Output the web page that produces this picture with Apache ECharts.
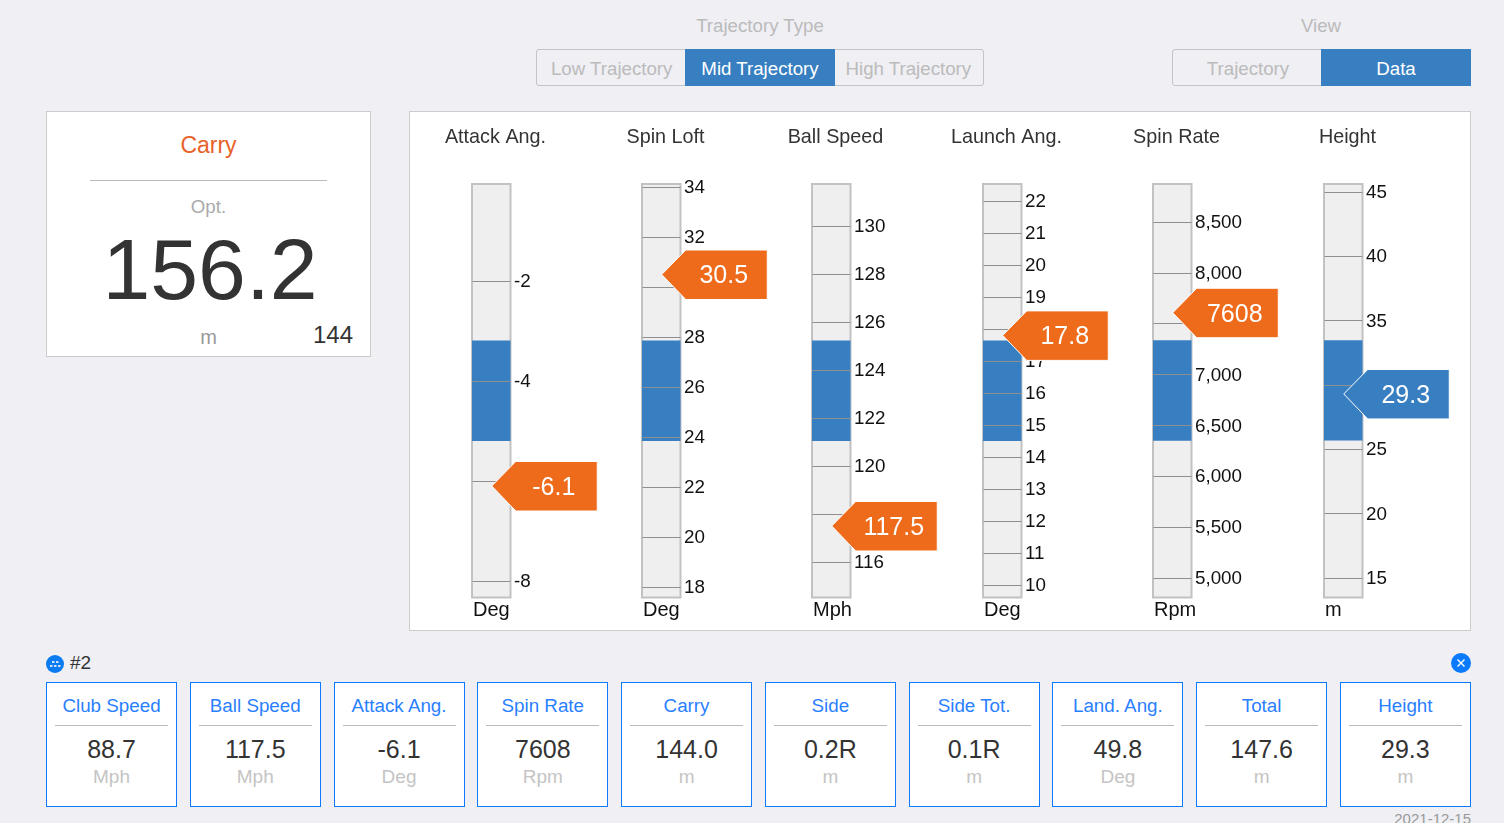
<!DOCTYPE html>
<html>
<head>
<meta charset="utf-8">
<script src="https://cdn.jsdelivr.net/npm/echarts@6/dist/echarts.min.js"></script>
<style>
  html, body { margin: 0; padding: 0; }
  body { width: 1504px; height: 823px; overflow: hidden; position: relative; background: #efeff4; font-family: "Liberation Sans", Arial, sans-serif; color: #333; }
  .abs { position: absolute; }
  .cap { color: #bbb; font-size: 18.7px; text-align: center; top: 15px; line-height: 22px; }
  .seg { top: 49px; height: 35px; border: 1px solid #c4c4c8; border-radius: 3px; display: flex; }
  .seg div { flex: 1; text-align: center; line-height: 37px; font-size: 18.7px; color: #bbb; }
  .seg div.on { background: #377fc1; color: #fff; margin: -1px -1px; line-height: 39px; position: relative; }
  #viewSeg div.on { margin-left: -2px; }
  #carry { left: 46px; top: 111px; width: 323px; height: 244px; background: #fff; border: 1px solid #ccc; }
  #carry .t { position: absolute; left: 0; right: 0; text-align: center; }
  #panel { left: 409px; top: 111px; width: 1060px; height: 518px; background: #fff; border: 1px solid #ccc; }
  #chart { width: 1060px; height: 518px; }
  #cards { left: 46px; top: 682px; width: 1425px; display: flex; justify-content: space-between; }
  .card { box-sizing: border-box; width: 131px; height: 125px; background: #fff; border: 1px solid #0a7bff; text-align: center; }
  .card .name { color: #2a7fff; font-size: 18.8px; line-height: 22px; margin: 12px 8px 0; padding-bottom: 8px; border-bottom: 1px solid #bbb; }
  .card .val { font-size: 25px; line-height: 30px; margin-top: 8px; }
  .card .unit { color: #c4c4c4; font-size: 19px; line-height: 22px; margin-top: 2px; }
</style>
</head>
<body>
<div class="abs cap" style="left:536px;width:448px">Trajectory Type</div>
<div class="abs seg" id="typeSeg" style="left:536px;width:446px"></div>
<div class="abs cap" style="left:1172px;width:298px">View</div>
<div class="abs seg" id="viewSeg" style="left:1172px;width:297px"></div>

<div class="abs" id="carry">
  <div class="t" style="top:19px;font-size:23px;line-height:28px;color:#e8622a">Carry</div>
  <div class="abs" style="left:43px;width:237px;top:68px;height:1px;background:#bbb"></div>
  <div class="t" style="top:84px;font-size:18.7px;line-height:22px;color:#aaa">Opt.</div>
  <div class="t" style="top:106.5px;left:3px;font-size:86px;line-height:100px">156.2</div>
  <div class="t" style="top:213px;font-size:20px;line-height:24px;color:#999">m</div>
  <div class="abs" style="right:17px;top:209px;font-size:24px;line-height:28px">144</div>
</div>

<div class="abs" id="panel"><div id="chart"></div></div>

<svg class="abs" style="left:46px;top:655px" width="18" height="18" viewBox="0 0 18 18">
  <circle cx="9" cy="9" r="9" fill="#0a7bf0"/>
  <g fill="#cfe2fb"><rect x="6" y="6" width="2.5" height="2"/><rect x="10" y="6" width="2.5" height="2"/><rect x="4" y="10" width="2.5" height="2"/><rect x="8" y="10" width="2.5" height="2"/><rect x="12" y="10" width="2.5" height="2"/></g>
</svg>
<div class="abs" style="left:70px;top:652px;font-size:19px;line-height:22px">#2</div>
<svg class="abs" style="left:1451px;top:653px" width="20" height="20" viewBox="0 0 20 20">
  <circle cx="10" cy="10" r="10" fill="#0a7bff"/>
  <path d="M6.5 6.5L13.5 13.5M13.5 6.5L6.5 13.5" stroke="#fff" stroke-width="1.4"/>
</svg>
<div class="abs" id="cards"></div>
<div class="abs" style="right:33px;top:810px;font-size:15px;line-height:18px;color:#999">2021-12-15</div>

<script>
// trajectory selector
var typeOptions = ["Low Trajectory", "Mid Trajectory", "High Trajectory"];
var viewOptions = ["Trajectory", "Data"];

// gauges
var gaugeNames = ["Attack Ang.", "Spin Loft", "Ball Speed", "Launch Ang.", "Spin Rate", "Height"];
var gaugeUnits = ["Deg", "Deg", "Mph", "Deg", "Rpm", "m"];
var gaugeValues = [-6.1, 30.5, 117.5, 17.8, 7608, 29.3];
var gaugeMax = [-0.06, 34.12, 131.75, 22.53, 8874, 45.62];
var gaugeMin = [-8.33, 17.58, 114.52, 9.61, 4808, 13.48];
var bandHigh = [-3.19, 27.86, 125.23, 17.64, 7338, 33.48];
var bandLow = [-5.2, 23.84, 121.04, 14.5, 6350, 25.68];
var attackTicks = [-2, -4, -6, -8];
var loftTicks = [34, 32, 30, 28, 26, 24, 22, 20, 18];
var ballTicks = [130, 128, 126, 124, 122, 120, 118, 116];
var launchTicks = [22, 21, 20, 19, 18, 17, 16, 15, 14, 13, 12, 11, 10];
var rateTicks = [8500, 8000, 7500, 7000, 6500, 6000, 5500, 5000];
var heightTicks = [45, 40, 35, 30, 25, 20, 15];
var gaugeTicks = [attackTicks, loftTicks, ballTicks, launchTicks, rateTicks, heightTicks];

// shot cards
var cardNames = ["Club Speed", "Ball Speed", "Attack Ang.", "Spin Rate", "Carry", "Side", "Side Tot.", "Land. Ang.", "Total", "Height"];
var cardValues = ["88.7", "117.5", "-6.1", "7608", "144.0", "0.2R", "0.1R", "49.8", "147.6", "29.3"];
var cardUnits = ["Mph", "Mph", "Deg", "Rpm", "m", "m", "m", "Deg", "m", "m"];

function fillSeg(id, options, active) {
  document.getElementById(id).innerHTML = options.map(function (o) {
    return '<div class="' + (o === active ? "on" : "") + '">' + o + "</div>";
  }).join("");
}
fillSeg("typeSeg", typeOptions, "Mid Trajectory");
fillSeg("viewSeg", viewOptions, "Data");

document.getElementById("cards").innerHTML = cardNames.map(function (n, i) {
  return '<div class="card"><div class="name">' + n + '</div><div class="val">' + cardValues[i] +
    '</div><div class="unit">' + cardUnits[i] + "</div></div>";
}).join("");

var tubeLeft = [62, 232, 402, 573, 743, 914];
var title = [], grid = [], xAxis = [], yAxis = [], series = [];

function renderBand(params, api) {
  var top = api.coord([0, api.value(2)])[1];
  var bottom = api.coord([0, api.value(1)])[1];
  return {
    type: "rect",
    shape: { x: params.coordSys.x, y: top, width: params.coordSys.width, height: bottom - top },
    style: { fill: "#377fc1" }
  };
}

function renderMarker(params, api) {
  var pt = api.coord([0, api.value(1)]);
  var x = pt[0] + 0.5, y = pt[1];
  var inBand = api.value(1) >= bandLow[params.seriesIndex / 2 | 0] && api.value(1) <= bandHigh[params.seriesIndex / 2 | 0];
  return {
    type: "group",
    children: [{
      type: "polygon",
      shape: { points: [[x, y], [x + 24, y - 24.5], [x + 105.5, y - 24.5], [x + 105.5, y + 25], [x + 24, y + 25]] },
      style: { fill: inBand ? "#377fc1" : "#ee6b1b", stroke: "#fff", lineWidth: 1 }
    }, {
      type: "text",
      style: {
        x: x + 62, y: y + 2, text: String(api.value(1)), fill: "#fff",
        font: '25px "Liberation Sans", Arial, sans-serif', align: "center", verticalAlign: "middle"
      }
    }]
  };
}

gaugeNames.forEach(function (name, i) {
  var left = tubeLeft[i];
  title.push({
    text: name, left: left + 18.5, top: 11, textAlign: "center",
    textStyle: { fontSize: 19.8, fontWeight: "normal", color: "#333", fontFamily: "Liberation Sans" }
  });
  title.push({
    text: gaugeUnits[i], left: left - 4, top: 483,
    textStyle: { fontSize: 20, fontWeight: "normal", color: "#111", fontFamily: "Liberation Sans" }
  });
  grid.push({
    left: left, top: 72, width: 38.5, height: 413.5, show: true,
    backgroundColor: "#efefef", borderColor: "#c2c2c2", borderWidth: 2
  });
  xAxis.push({ type: "category", gridIndex: i, data: [gaugeUnits[i]], show: false });
  yAxis.push({
    type: "value", gridIndex: i, position: "right", min: gaugeMin[i], max: gaugeMax[i], z: 3,
    splitLine: { show: false }, axisLine: { show: false },
    axisTick: { show: true, inside: true, length: 38, customValues: gaugeTicks[i], lineStyle: { color: "#8f8f8f", width: 1 } },
    axisLabel: {
      show: true, margin: 3.5, customValues: gaugeTicks[i], showMinLabel: true, showMaxLabel: true,
      formatter: function (v) { return "{t|" + echarts.format.addCommas(v) + "}"; },
      rich: { t: { fontSize: 18.8, color: "#111", fontFamily: "Liberation Sans", padding: [2, 0, 0, 0] } }
    }
  });
  series.push({
    type: "custom", xAxisIndex: i, yAxisIndex: i, z: 2, silent: true,
    encode: { x: 0, y: [1, 2] }, data: [[0, bandLow[i], bandHigh[i]]], renderItem: renderBand
  });
  series.push({
    type: "custom", xAxisIndex: i, yAxisIndex: i, z: 5, silent: true, clip: false,
    encode: { x: 0, y: 1 }, data: [[0, gaugeValues[i]]], renderItem: renderMarker
  });
});

var chart = echarts.init(document.getElementById("chart"));
chart.setOption({
  animation: false, title: title, grid: grid, xAxis: xAxis, yAxis: yAxis, series: series
});
</script>
</body>
</html>
